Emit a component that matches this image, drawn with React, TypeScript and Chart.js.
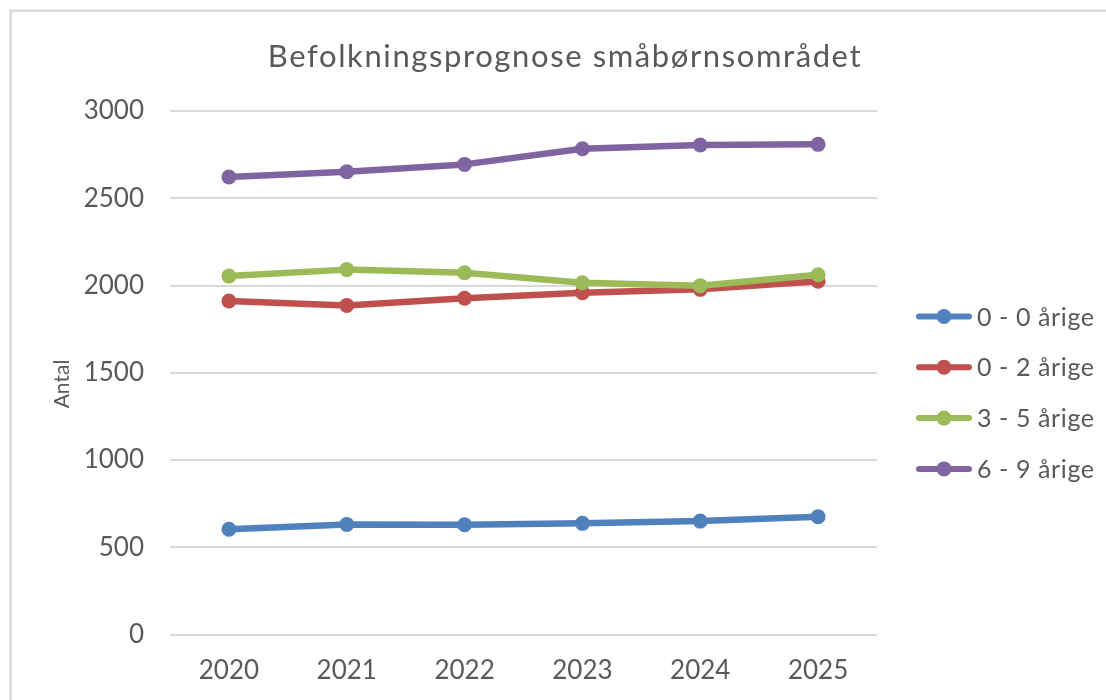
import React, { useEffect, useRef } from 'react';
import { Chart, registerables } from 'chart.js';

Chart.register(...registerables);

// ---- data ----
const years = ['2020', '2021', '2022', '2023', '2024', '2025'];
const seriesNames = ['0 - 0 årige', '0 - 2 årige', '3 - 5 årige', '6 - 9 årige'];
const age0 = [603, 631, 629, 637, 650, 675];
const age0to2 = [1911, 1886, 1927, 1959, 1978, 2024];
const age3to5 = [2054, 2091, 2073, 2016, 1999, 2062];
const age6to9 = [2622, 2652, 2694, 2784, 2805, 2809];
const seriesColors = ['#4F81BD', '#C0504D', '#9BBB59', '#8064A2'];
const yMin = 0;
const yMax = 3000;
const yStep = 500;
const titleText = 'Befolkningsprognose småbørnsområdet';
const yTitleText = 'Antal';

const TEXT = '#595959';
const FONT = 'Lato';

const decor = {
  id: 'decor',
  beforeDraw(chart: any) {
    const ctx = chart.ctx;
    ctx.save();
    ctx.fillStyle = '#ffffff';
    ctx.fillRect(0, 0, chart.width, chart.height);
    ctx.strokeStyle = '#d9d9d9';
    ctx.lineWidth = 2.5;
    ctx.strokeRect(10.7, 10.7, 3000, 3000);
    ctx.restore();
  },
  afterDraw(chart: any) {
    const ctx = chart.ctx;
    ctx.save();
    // title
    ctx.fillStyle = TEXT;
    ctx.font = `31px ${FONT}`;
    (ctx as any).letterSpacing = '1.6px';
    ctx.textAlign = 'center';
    ctx.textBaseline = 'alphabetic';
    ctx.fillText(titleText, 565, 67);
    // y axis title
    (ctx as any).letterSpacing = '0px';
    ctx.save();
    ctx.translate(62, 384);
    ctx.rotate(-Math.PI / 2);
    ctx.font = `21px ${FONT}`;
    ctx.textAlign = 'center';
    ctx.textBaseline = 'middle';
    ctx.fillText(yTitleText, 0, 0);
    ctx.restore();
    // legend
    (ctx as any).letterSpacing = '0.6px';
    const ds = chart.data.datasets;
    for (let i = 0; i < ds.length; i++) {
      const y = 316.5 + i * 50.8;
      ctx.strokeStyle = ds[i].borderColor;
      ctx.lineWidth = 6;
      ctx.lineCap = 'round';
      ctx.beginPath();
      ctx.moveTo(919, y);
      ctx.lineTo(969, y);
      ctx.stroke();
      ctx.fillStyle = ds[i].borderColor;
      ctx.beginPath();
      ctx.arc(944, y, 7.5, 0, Math.PI * 2);
      ctx.fill();
      ctx.fillStyle = TEXT;
      ctx.font = `25px ${FONT}`;
      ctx.textAlign = 'left';
      ctx.textBaseline = 'middle';
      ctx.fillText(ds[i].label, 977, y + 1);
    }
    ctx.restore();
  },
};

export default function App() {
  const ref = useRef<HTMLCanvasElement | null>(null);
  useEffect(() => {
    const values = [age0, age0to2, age3to5, age6to9];
    const chart = new Chart(ref.current as HTMLCanvasElement, {
      type: 'line',
      data: {
        labels: years,
        datasets: values.map((v, i) => ({
          label: seriesNames[i],
          data: v,
          borderColor: seriesColors[i],
          backgroundColor: seriesColors[i],
          pointBackgroundColor: seriesColors[i],
          pointBorderWidth: 0,
          pointRadius: 7.5,
          borderWidth: 6.5,
          tension: 0,
          borderJoinStyle: 'round' as const,
          order: values.length - i,
        })),
      },
      options: {
        responsive: false,
        animation: false,
        devicePixelRatio: 1,
        layout: { padding: { top: 111, right: 229, bottom: 0, left: 0 } },
        plugins: {
          legend: { display: false },
          title: { display: false },
          tooltip: { enabled: false },
        },
        scales: {
          x: {
            offset: true,
            grid: { display: false, drawTicks: false },
            border: { display: false },
            ticks: { color: TEXT, font: { family: FONT, size: 26 }, padding: 21, maxRotation: 0 },
            afterFit: (s: any) => { s.height = 65.5; },
          },
          y: {
            min: yMin,
            max: yMax,
            grid: { color: '#d9d9d9', lineWidth: 2, drawTicks: false },
            border: { display: false },
            ticks: {
              stepSize: yStep,
              color: TEXT,
              font: { family: FONT, size: 26 },
              padding: 26,
              callback: (v: any) => String(v),
            },
            afterFit: (s: any) => { s.width = 170; },
          },
        },
      },
      plugins: [decor],
    });
    return () => chart.destroy();
  }, []);
  return (
    <div style={{ position: 'fixed', left: 0, top: 0, width: 1106, height: 700, background: '#fff' }}>
      <canvas ref={ref} width={1106} height={700} style={{ width: 1106, height: 700, display: 'block' }} />
    </div>
  );
}
